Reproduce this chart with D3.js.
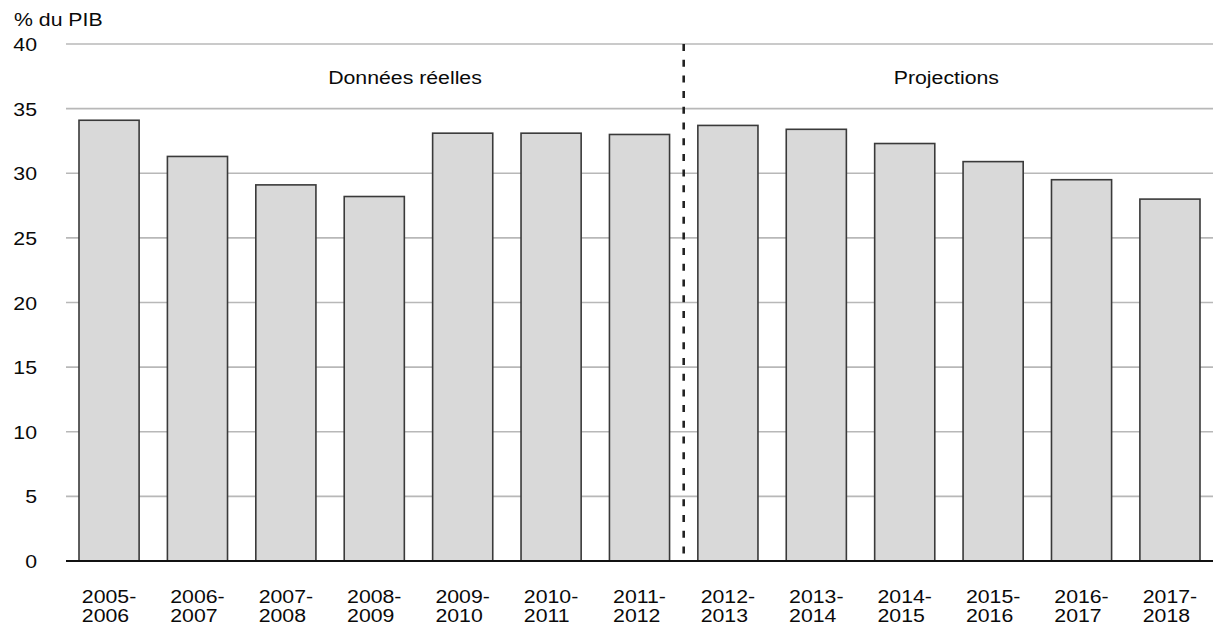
<!DOCTYPE html>
<html>
<head>
<meta charset="utf-8">
<script src="https://cdn.jsdelivr.net/npm/d3@7"></script>
<style>
  html, body { margin: 0; padding: 0; background: #fff; }
  svg { display: block; }
  text { font-family: "Liberation Sans", Arial, Helvetica, sans-serif; fill: #0a0a0a; }
</style>
</head>
<body>
<svg id="chart" width="1213" height="628"></svg>
<script>
// Fiscal years (two-line labels) and values in % of GDP
const yearStart = ["2005", "2006", "2007", "2008", "2009", "2010", "2011", "2012", "2013", "2014", "2015", "2016", "2017"];
const yearEnd   = ["2006", "2007", "2008", "2009", "2010", "2011", "2012", "2013", "2014", "2015", "2016", "2017", "2018"];
const values    = [34.1, 31.3, 29.1, 28.2, 33.1, 33.1, 33.0, 33.7, 33.4, 32.3, 30.9, 29.5, 28.0];
const yTicks    = [0, 5, 10, 15, 20, 25, 30, 35, 40];
const firstProjection = "2012";
const unitLabel = "% du PIB";
const periodLabels = ["Données réelles", "Projections"];

const svg = d3.select("#chart");
const plot = { left: 66, right: 1213, top: 44, bottom: 561 };
const stretch = 1.12; // typeface is set slightly wide
const fontSize = 19;

const x = d3.scaleBand()
  .domain(yearStart)
  .range([plot.left, plot.right])
  .paddingInner(0.32)
  .paddingOuter(0.147);

const y = d3.scaleLinear()
  .domain([0, 40])
  .range([plot.bottom, plot.top]);

function wideText(g, px, py, str, anchor) {
  return g.append("text")
    .attr("transform", `translate(${px},${py}) scale(${stretch},1)`)
    .attr("text-anchor", anchor)
    .style("font-size", fontSize + "px")
    .text(str);
}

// Horizontal gridlines
svg.append("g")
  .selectAll("line")
  .data(yTicks.filter(d => d > 0))
  .join("line")
  .attr("x1", plot.left).attr("x2", plot.right)
  .attr("y1", d => y(d)).attr("y2", d => y(d))
  .attr("stroke", "#b8b8b8")
  .attr("stroke-width", 1.6);

// Y tick labels
const yl = svg.append("g");
yTicks.forEach(t => wideText(yl, 37, y(t) + 7, String(t), "end"));

// Unit label
wideText(svg, 14, 26, unitLabel, "start");

// Bars
svg.append("g")
  .selectAll("rect")
  .data(values)
  .join("rect")
  .attr("x", (d, i) => x(yearStart[i]))
  .attr("width", x.bandwidth())
  .attr("y", d => y(d))
  .attr("height", d => y(0) - y(d))
  .attr("fill", "#d9d9d9")
  .attr("stroke", "#3a3a3a")
  .attr("stroke-width", 1.6);

// Baseline
svg.append("line")
  .attr("x1", plot.left).attr("x2", plot.right)
  .attr("y1", y(0)).attr("y2", y(0))
  .attr("stroke", "#111")
  .attr("stroke-width", 2.2);

// Divider between actual data and projections
const splitX = x(firstProjection) - x.step() * x.paddingInner() / 2;
svg.append("line")
  .attr("x1", splitX).attr("x2", splitX)
  .attr("y1", y(40)).attr("y2", y(0))
  .attr("stroke", "#222")
  .attr("stroke-width", 2.6)
  .attr("stroke-dasharray", "7,8.7");

// Period labels
wideText(svg, 405, 83.5, periodLabels[0], "middle");
wideText(svg, (splitX + plot.right) / 2 - 2, 83.5, periodLabels[1], "middle");

// X labels: two lines, left-aligned under a centred first line
const xl = svg.append("g");
yearStart.forEach((s, i) => {
  const cx = x(s) + x.bandwidth() / 2;
  const t = xl.append("text")
    .style("font-size", fontSize + "px");
  t.append("tspan").attr("x", 0).attr("y", 0).text(s + "-");
  t.append("tspan").attr("x", 0).attr("y", 20).text(yearEnd[i]);
  const w = t.node().firstChild.getComputedTextLength() * stretch;
  t.attr("transform", `translate(${cx - w / 2},602.5) scale(${stretch},1)`);
});
</script>
</body>
</html>
